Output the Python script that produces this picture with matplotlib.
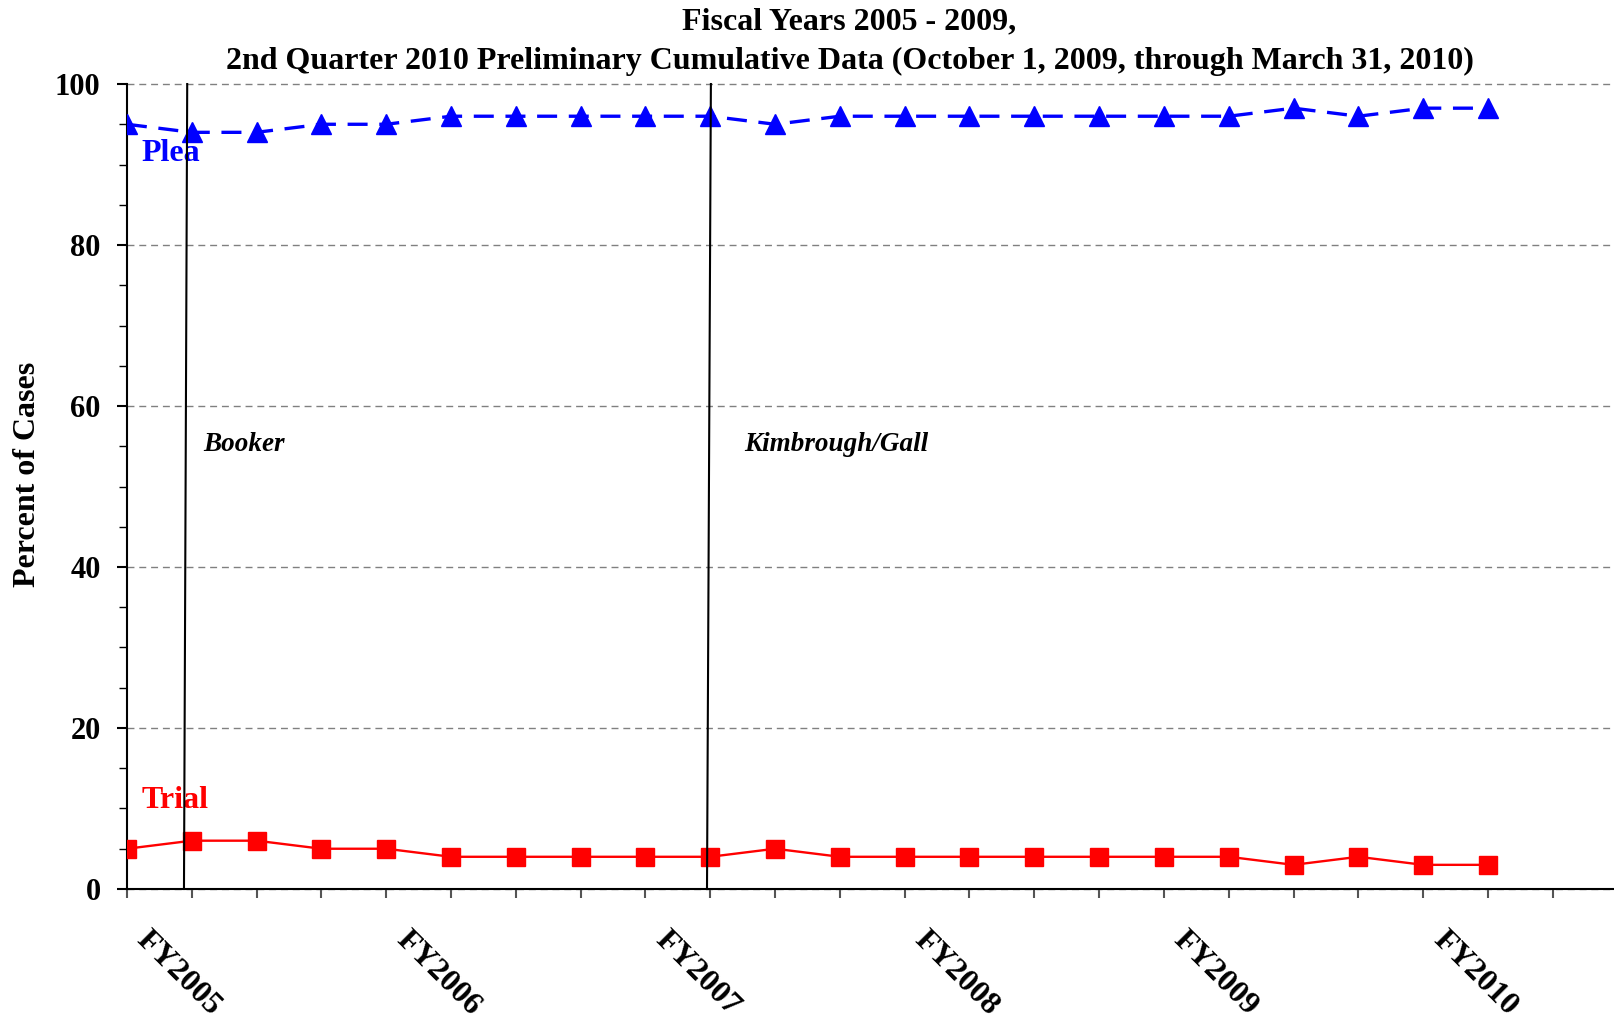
import numpy as np
import matplotlib
matplotlib.use("Agg")
import matplotlib.pyplot as plt
from matplotlib.ticker import MultipleLocator
from matplotlib.transforms import ScaledTranslation

# quarters from FY2005 Q1 through FY2010 Q2
quarters = np.arange(22)
plea = [95, 94, 94, 95, 95, 96, 96, 96, 96, 96, 95,
        96, 96, 96, 96, 96, 96, 96, 97, 96, 97, 97]
trial = [5, 6, 6, 5, 5, 4, 4, 4, 4, 4, 5,
         4, 4, 4, 4, 4, 4, 4, 3, 4, 3, 3]
year_labels = ["FY2005", "FY2006", "FY2007", "FY2008", "FY2009", "FY2010"]

events = ["Booker", "Kimbrough/Gall"]
event_x_top = [0.93, 9.01]
event_x_bottom = [0.88, 8.95]
event_label_x = [1.17, 9.52]

plt.rcParams["font.family"] = ["Liberation Serif", "DejaVu Serif"]
plt.rcParams["font.weight"] = "bold"

fig = plt.figure(figsize=(16.15, 10.21), dpi=100)
ax = fig.add_axes([0.0786, 0.1293, 0.9214, 0.7884])

ax.plot(quarters, plea, color="blue", lw=2.4, dashes=(6, 3.5),
        marker="^", markersize=15, zorder=3)
ax.plot(quarters, trial, color="red", lw=1.7,
        marker="s", markersize=13, zorder=3)

for name, xt, xb, xl in zip(events, event_x_top, event_x_bottom, event_label_x):
    ax.plot([xb, xt], [0, 100], color="black", lw=1.5, zorder=5, clip_on=False)
    ax.text(xl, 55.2, name, fontsize=19.5, fontstyle="italic",
            fontweight="bold", va="center", ha="left")

ax.text(0.22, 91.4, "Plea", color="blue", fontsize=23, va="center", ha="left")
ax.text(0.22, 11, "Trial", color="red", fontsize=23, va="center", ha="left")

ax.set_xlim(0, 22.96)
ax.set_ylim(0, 100)

ax.set_xticks(np.arange(23))
ax.set_xticklabels([year_labels[i // 4] if i % 4 == 0 and i // 4 < len(year_labels) else ""
                    for i in range(23)],
                   rotation=-45, ha="left", va="top", fontsize=23, fontweight="bold")
ax.tick_params(axis="x", direction="out", length=6.5, width=1.5,
               color="#555555", pad=20)
for lab in ax.get_xticklabels():
    lab.set_transform(lab.get_transform() + ScaledTranslation(0.04, 0, fig.dpi_scale_trans))

ax.yaxis.set_major_locator(MultipleLocator(20))
ax.yaxis.set_minor_locator(MultipleLocator(5))
ax.tick_params(axis="y", which="major", direction="out", length=7, width=1.5,
               labelsize=22, pad=12)
ax.tick_params(axis="y", which="minor", direction="out", length=5.5, width=1)
for lab in ax.get_yticklabels():
    lab.set_fontweight("bold")

ax.yaxis.grid(True, which="major", color="gray", lw=1, dashes=(5, 3.5))
for gl in ax.get_ygridlines():
    gl.set_clip_on(False)
ax.set_axisbelow(True)

for side in ["top", "right"]:
    ax.spines[side].set_visible(False)
ax.spines["left"].set_linewidth(1.5)
ax.spines["bottom"].set_linewidth(1.5)

fig.text(0.0173, 0.535, "Percent of Cases", rotation=90, fontsize=23,
         fontweight="bold", ha="center", va="center")
fig.text(0.526, 0.979, "Fiscal Years 2005 - 2009,", fontsize=23,
         fontweight="bold", ha="center", va="center")
fig.text(0.526, 0.940,
         "2nd Quarter 2010 Preliminary Cumulative Data (October 1, 2009, through March 31, 2010)",
         fontsize=23, fontweight="bold", ha="center", va="center")

fig.savefig("out.png", dpi=100)
